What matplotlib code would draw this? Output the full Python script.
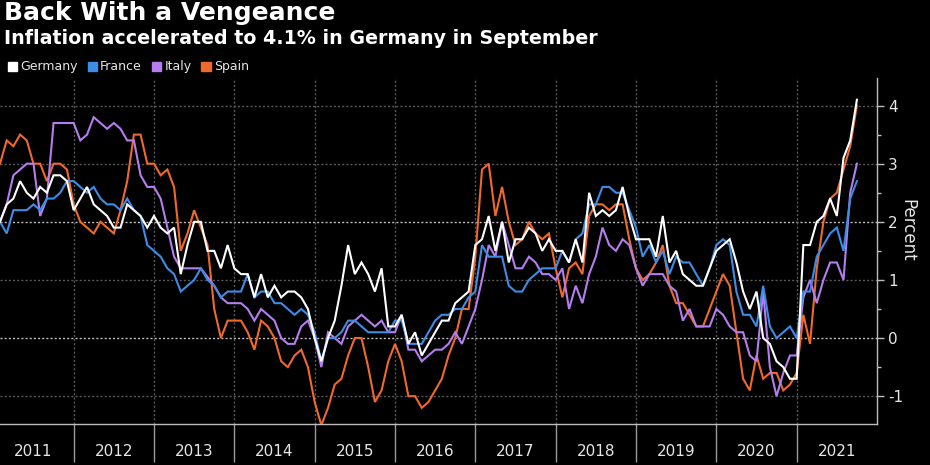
import numpy as np
import matplotlib.pyplot as plt
from matplotlib.patches import Patch

# monthly HICP inflation, Jan 2011 .. Sep 2021 (percent)
germany = [
    2.0, 2.3, 2.4, 2.7, 2.5, 2.4, 2.6, 2.5, 2.8, 2.8, 2.7, 2.2,
    2.4, 2.6, 2.3, 2.2, 2.1, 1.9, 1.9, 2.3, 2.2, 2.1, 1.9, 2.1,
    1.9, 1.8, 1.9, 1.1, 1.6, 2.0, 2.0, 1.5, 1.5, 1.2, 1.6, 1.2,
    1.1, 1.1, 0.7, 1.1, 0.7, 0.9, 0.7, 0.8, 0.8, 0.7, 0.5, 0.0,
    -0.4, 0.0, 0.3, 0.9, 1.6, 1.1, 1.3, 1.1, 0.8, 1.2, 0.2, 0.2,
    0.4, -0.1, 0.1, -0.3, -0.1, 0.1, 0.3, 0.3, 0.6, 0.7, 0.8, 1.6,
    1.7, 2.1, 1.5, 2.0, 1.3, 1.7, 1.7, 1.9, 1.8, 1.5, 1.7, 1.5,
    1.5, 1.3, 1.7, 1.3, 2.5, 2.1, 2.2, 2.1, 2.2, 2.6, 2.1, 1.7,
    1.7, 1.7, 1.4, 2.1, 1.3, 1.5, 1.1, 1.0, 0.9, 0.9, 1.2, 1.5,
    1.6, 1.7, 1.3, 0.8, 0.5, 0.8, 0.0, -0.1, -0.4, -0.5, -0.7, -0.7,
    1.6, 1.6, 2.0, 2.1, 2.4, 2.1, 3.1, 3.4, 4.1,
]
france = [
    2.0, 1.8, 2.2, 2.2, 2.2, 2.3, 2.2, 2.4, 2.4, 2.5, 2.7, 2.7,
    2.6, 2.5, 2.6, 2.4, 2.3, 2.3, 2.2, 2.4, 2.2, 2.1, 1.6, 1.5,
    1.4, 1.2, 1.1, 0.8, 0.9, 1.0, 1.2, 1.0, 0.9, 0.7, 0.8, 0.8,
    0.8, 1.1, 0.7, 0.8, 0.8, 0.6, 0.6, 0.5, 0.4, 0.5, 0.4, 0.1,
    -0.4, 0.0, 0.0, 0.1, 0.3, 0.3, 0.2, 0.1, 0.1, 0.1, 0.1, 0.3,
    0.3, -0.1, -0.1, -0.1, 0.1, 0.3, 0.4, 0.4, 0.5, 0.5, 0.7, 0.8,
    1.6, 1.4, 1.4, 1.4, 0.9, 0.8, 0.8, 1.0, 1.1, 1.2, 1.2, 1.2,
    1.5, 1.3, 1.7, 1.8, 2.3, 2.3, 2.6, 2.6, 2.5, 2.5, 2.2, 1.9,
    1.4, 1.6, 1.3, 1.5, 1.1, 1.4, 1.3, 1.3, 1.1, 0.9, 1.2, 1.6,
    1.7, 1.6, 0.8, 0.4, 0.4, 0.2, 0.9, 0.2, 0.0, 0.1, 0.2, 0.0,
    0.8, 0.8, 1.4, 1.6, 1.8, 1.9, 1.5, 2.4, 2.7,
]
italy = [
    2.0, 2.3, 2.8, 2.9, 3.0, 3.0, 2.1, 2.4, 3.7, 3.7, 3.7, 3.7,
    3.4, 3.5, 3.8, 3.7, 3.6, 3.7, 3.6, 3.4, 3.4, 2.8, 2.6, 2.6,
    2.4, 1.9, 1.4, 1.2, 1.2, 1.2, 1.2, 1.05, 0.9, 0.7, 0.6, 0.6,
    0.6, 0.5, 0.3, 0.5, 0.4, 0.3, 0.0, -0.1, -0.1, 0.2, 0.3, 0.0,
    -0.5, 0.1, 0.0, -0.1, 0.2, 0.3, 0.4, 0.3, 0.2, 0.3, 0.1, 0.1,
    0.4, -0.2, -0.2, -0.4, -0.3, -0.2, -0.2, -0.1, 0.1, -0.1, 0.2, 0.5,
    1.0, 1.6, 1.4, 2.0, 1.6, 1.2, 1.2, 1.4, 1.3, 1.1, 1.1, 1.0,
    1.2, 0.5, 0.9, 0.6, 1.1, 1.4, 1.9, 1.6, 1.5, 1.7, 1.6, 1.2,
    0.9, 1.1, 1.1, 1.1, 0.9, 0.8, 0.3, 0.5, 0.2, 0.2, 0.2, 0.5,
    0.4, 0.2, 0.1, 0.1, -0.3, -0.4, 0.8, -0.5, -1.0, -0.6, -0.3, -0.3,
    0.7, 1.0, 0.6, 1.0, 1.3, 1.3, 1.0, 2.5, 3.0,
]
spain = [
    3.0, 3.4, 3.3, 3.5, 3.4, 3.0, 3.0, 2.7, 3.0, 3.0, 2.9, 2.3,
    2.0, 1.9, 1.8, 2.0, 1.9, 1.8, 2.2, 2.7, 3.5, 3.5, 3.0, 3.0,
    2.8, 2.9, 2.6, 1.5, 1.8, 2.2, 1.9, 1.6, 0.5, 0.0, 0.3, 0.3,
    0.3, 0.1, -0.2, 0.3, 0.2, 0.0, -0.4, -0.5, -0.3, -0.2, -0.5, -1.1,
    -1.5, -1.2, -0.8, -0.7, -0.3, 0.0, 0.0, -0.5, -1.1, -0.9, -0.4, -0.1,
    -0.4, -1.0, -1.0, -1.2, -1.1, -0.9, -0.7, -0.3, 0.0, 0.5, 0.5, 1.4,
    2.9, 3.0, 2.1, 2.6, 2.0, 1.6, 1.7, 2.0, 1.8, 1.7, 1.8, 1.2,
    0.7, 1.2, 1.3, 1.1, 2.1, 2.3, 2.3, 2.2, 2.3, 2.3, 1.7, 1.2,
    1.0, 1.1, 1.3, 1.6, 0.9, 0.6, 0.6, 0.4, 0.2, 0.2, 0.5, 0.8,
    1.1, 0.9, 0.1, -0.7, -0.9, -0.3, -0.7, -0.6, -0.6, -0.9, -0.8, -0.6,
    0.4, -0.1, 1.2, 2.0, 2.4, 2.5, 2.9, 3.3, 4.0,
]
names = ["Germany", "France", "Italy", "Spain"]
colors = ["#ffffff", "#3d8ce6", "#b57ded", "#f0692c"]
years = list(range(2011, 2022))

# months plotted at month end
t = 2011 + (np.arange(len(germany)) + 1) / 12

fig = plt.figure(figsize=(9.3, 4.65), dpi=100, facecolor="black")
ax = fig.add_axes([0.0, 0.088, 0.943, 0.745])
ax.set_facecolor("black")

# horizontal grid, 0 and 2 brighter
for v in range(-1, 5):
    c = "#bdbdbd" if v in (0, 2) else "#5a5a5a"
    ax.axhline(v, color=c, lw=1.0, ls=(0, (1.5, 1.5)), zorder=1)

series = [germany, france, italy, spain]
for data, name, col, z in zip(series, names, colors, [6, 5, 4, 3]):
    ax.plot(t, data, color=col, lw=1.5, zorder=z, solid_joinstyle="miter")

ax.set_xlim(2011 + 1 / 12, 2022.0)
ax.set_ylim(-1.48, 4.48)

# x axis: boundaries as long ticks, year names centered
ax.set_xticks(years[1:])
ax.set_xticklabels([])
ax.set_xticks([y + 0.5 for y in years], minor=True)
ax.set_xticklabels([str(y) for y in years], minor=True)
ax.tick_params(axis="x", which="major", length=27, width=1, color="#9a9a9a", direction="out")
ax.tick_params(axis="x", which="minor", length=0, pad=14, labelsize=11, labelcolor="#e6e6e6")
ax.grid(axis="x", which="major", color="#5a5a5a", lw=1.0, ls=(0, (1.5, 1.5)))

# y axis on the right
ax.yaxis.tick_right()
ax.yaxis.set_label_position("right")
ax.set_yticks(range(-1, 5))
ax.set_yticklabels([str(v) for v in range(-1, 5)])
ax.set_yticks([v + 0.5 for v in range(-1, 4)], minor=True)
ax.tick_params(axis="y", which="major", length=5, width=1, color="#bdbdbd",
               labelsize=11, labelcolor="#e6e6e6", pad=3)
ax.tick_params(axis="y", which="minor", length=3, width=1, color="#bdbdbd")
ax.set_ylabel("Percent", rotation=270, color="#e6e6e6", fontsize=12)
ax.yaxis.set_label_coords(1.045, 0.56)

for s in ["left", "top"]:
    ax.spines[s].set_visible(False)
for s in ["right", "bottom"]:
    ax.spines[s].set_color("#bdbdbd")
    ax.spines[s].set_linewidth(1.0)

fig.text(0.004, 0.997, "Back With a Vengeance", fontsize=18, fontweight="bold",
         color="white", va="top", ha="left")
fig.text(0.004, 0.938, "Inflation accelerated to 4.1% in Germany in September",
         fontsize=13.7, fontweight="bold", color="white", va="top", ha="left")

handles = [Patch(facecolor=c, edgecolor=c) for c in colors]
leg = fig.legend(handles, names, loc="center left", bbox_to_anchor=(-0.004, 0.856),
                 ncol=4, frameon=False, fontsize=9, handlelength=0.75, handleheight=0.75,
                 handletextpad=0.25, columnspacing=0.8, labelcolor="#e6e6e6")

fig.savefig("out.png", dpi=100, facecolor="black")
